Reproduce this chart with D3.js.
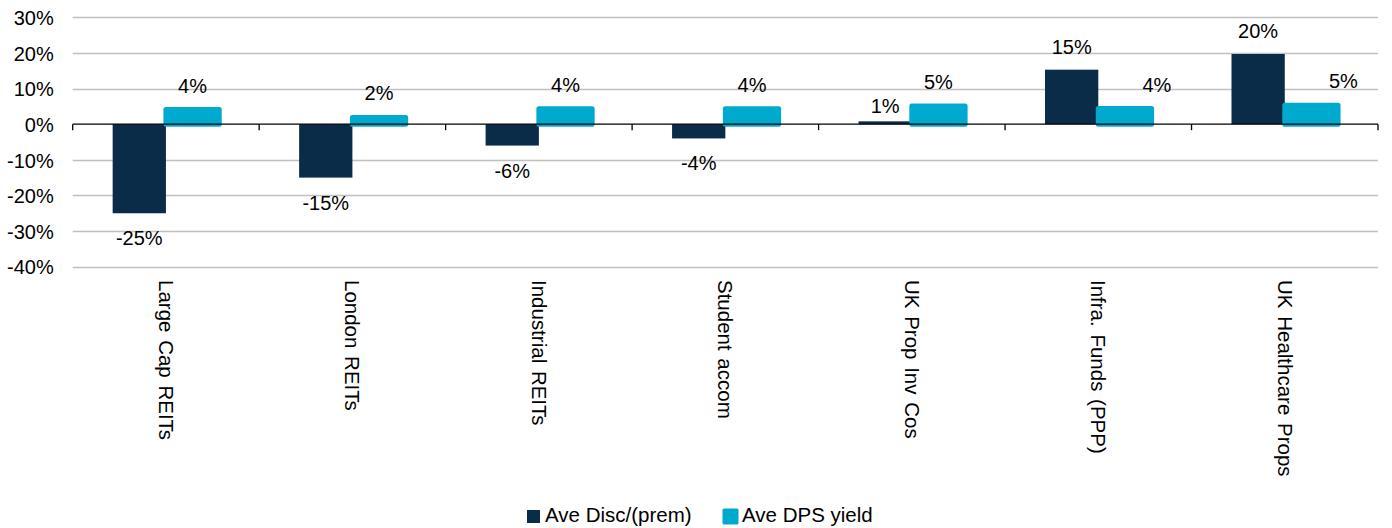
<!DOCTYPE html>
<html>
<head>
<meta charset="utf-8">
<script src="https://cdn.jsdelivr.net/npm/d3@7"></script>
<style>
  html, body { margin: 0; padding: 0; background: #fff; }
  svg { display: block; font-family: "Liberation Sans", Arial, sans-serif; }
</style>
</head>
<body>
<svg id="chart" width="1392" height="528"></svg>
<script>
// ---- data ----
const categories = ["Large Cap REITs", "London REITs", "Industrial REITs", "Student accom",
                    "UK Prop Inv Cos", "Infra. Funds (PPP)", "UK Healthcare Props"];
const aveDisc = [-0.25, -0.15, -0.06, -0.04, 0.008, 0.153, 0.197];
const aveDps  = [0.041, 0.019, 0.043, 0.043, 0.051, 0.044, 0.053];
const seriesNames = ["Ave Disc/(prem)", "Ave DPS yield"];
const yTicks = [-0.4, -0.3, -0.2, -0.1, 0, 0.1, 0.2, 0.3];

// ---- layout ----
const plotL = 72.7, plotR = 1378, plotT = 17.3, plotB = 266.7;
const colors = ["#0B2C48", "#00AACE"];
const locale = d3.formatLocale({ decimal: ".", thousands: ",", grouping: [3], currency: ["", ""], minus: "-" });
const fmt = locale.format(".0%");

const svg = d3.select("#chart");

const x = d3.scaleBand().domain(categories).range([plotL, plotR]).paddingInner(0).paddingOuter(0);
const xs = d3.scaleBand().domain(seriesNames).range([0, x.bandwidth()]).paddingInner(0).paddingOuter(0.75);
const y = d3.scaleLinear().domain([-0.4, 0.3]).range([plotB, plotT]);

// gridlines
svg.append("g").selectAll("line").data(yTicks.filter(t => t !== 0)).join("line")
  .attr("x1", plotL).attr("x2", plotR)
  .attr("y1", d => Math.round(y(d)) + 0.5).attr("y2", d => Math.round(y(d)) + 0.5)
  .attr("stroke", "#C0C0C0").attr("stroke-width", 1.3);

// y axis labels
const yAxis = d3.axisLeft(y).tickValues(yTicks).tickFormat(fmt).tickSize(0).tickPadding(0);
const gy = svg.append("g").attr("transform", `translate(${plotL - 19},0)`).call(yAxis);
gy.select(".domain").remove();
gy.selectAll("text").attr("font-size", "20px").attr("fill", "#000")
  .attr("font-family", "'Liberation Sans', Arial, sans-serif").attr("dy", "0.36em");

// bars
const data = categories.map((c, i) => ({ c, i, vals: [aveDisc[i], aveDps[i]] }));
const groups = svg.append("g").selectAll("g").data(data).join("g")
  .attr("transform", d => `translate(${x(d.c)},0)`);

// dark bars
groups.append("rect")
  .attr("x", xs(seriesNames[0]))
  .attr("width", xs.bandwidth())
  .attr("y", d => y(Math.max(0, d.vals[0])))
  .attr("height", d => Math.abs(y(d.vals[0]) - y(0)))
  .attr("fill", colors[0]);

// teal bars (with rounded stroke)
groups.append("rect")
  .attr("x", xs(seriesNames[1]))
  .attr("width", xs.bandwidth())
  .attr("y", d => y(Math.max(0, d.vals[1])))
  .attr("height", d => Math.abs(y(d.vals[1]) - y(0)))
  .attr("fill", colors[1])
  .attr("stroke", colors[1]).attr("stroke-width", 5).attr("stroke-linejoin", "round");

// x axis (zero line + ticks)
const gx = svg.append("g").attr("transform", `translate(0,${y(0)})`);
gx.append("line").attr("x1", plotL).attr("x2", plotR).attr("y1", 0).attr("y2", 0)
  .attr("stroke", "#000").attr("stroke-width", 1.3);
const bounds = categories.map(c => x(c)).concat([plotR]);
gx.selectAll("line.tick").data(bounds).join("line").attr("class", "tick")
  .attr("x1", d => d).attr("x2", d => d).attr("y1", 0).attr("y2", 6)
  .attr("stroke", "#000").attr("stroke-width", 1.3);

// dark labels
groups.append("text")
  .attr("x", xs(seriesNames[0]) + xs.bandwidth() / 2)
  .attr("y", d => d.vals[0] >= 0 ? y(d.vals[0]) - (d.vals[0] < 0.02 ? 8 : 16) : y(d.vals[0]) + 32)
  .attr("text-anchor", "middle").attr("font-size", "20px").attr("fill", "#000")
  .text(d => fmt(d.vals[0]));

// teal labels (shifted right where the neighbouring bar is tall)
groups.append("text")
  .attr("x", d => xs(seriesNames[1]) + xs.bandwidth() / 2 + (d.vals[0] > 0.1 ? 32 : 0))
  .attr("y", d => y(d.vals[1]) - 17)
  .attr("text-anchor", "middle").attr("font-size", "20px").attr("fill", "#000")
  .text(d => fmt(d.vals[1]));

// category labels (rotated)
svg.append("g").selectAll("text").data(categories).join("text")
  .attr("transform", d => `translate(${x(d) + x.bandwidth() / 2},280) rotate(90)`)
  .attr("dy", "0.35em").attr("text-anchor", "start")
  .attr("font-size", "20.5px").attr("word-spacing", "2px").attr("fill", "#000")
  .text(d => d);

// legend
const legend = svg.append("g");
const lg1 = legend.append("g").attr("transform", "translate(527,510)");
lg1.append("rect").attr("width", 13).attr("height", 13).attr("fill", colors[0]);
lg1.append("text").attr("x", 18).attr("y", 12).attr("font-size", "20.5px").text(seriesNames[0]);
const lg2 = legend.append("g").attr("transform", "translate(724,510)");
lg2.append("rect").attr("width", 13).attr("height", 13).attr("fill", colors[1])
  .attr("stroke", colors[1]).attr("stroke-width", 3).attr("stroke-linejoin", "round");
lg2.append("text").attr("x", 18).attr("y", 12).attr("font-size", "20.5px").text(seriesNames[1]);
</script>
</body>
</html>
